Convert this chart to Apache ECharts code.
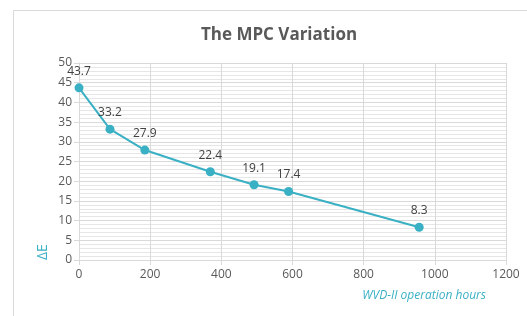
<!DOCTYPE html>
<html>
<head>
<meta charset="utf-8">
<script src="https://cdn.jsdelivr.net/npm/echarts@6/dist/echarts.min.js"></script>
<style>
  html, body { margin: 0; padding: 0; background: #fff; }
  #main { width: 527px; height: 316px; }
</style>
</head>
<body>
<div id="main"></div>
<script>
// hours vs delta E
const hours = [0, 87, 185, 369, 492, 589, 956];
const deltaE = [43.7, 33.2, 27.9, 22.4, 19.1, 17.4, 8.3];

const pts = hours.map(function (h, i) { return [h, deltaE[i]]; });

var myChart = echarts.init(document.getElementById("main"));

var option = {
  animation: false,
  textStyle: { fontFamily: "Open Sans" },
  title: {
    text: "The MPC Variation",
    left: 274,
    textAlign: "center",
    top: 22,
    textStyle: { fontSize: 17, fontWeight: "bold", color: "#595959", fontFamily: "Open Sans" },
  },
  graphic: [
    {
      type: "rect",
      shape: { x: 13.5, y: 10.5, width: 600, height: 400 },
      style: { fill: "none", stroke: "#d9d9d9", lineWidth: 1 },
      silent: true,
    },
  ],
  grid: { left: 79, right: 21, top: 63, bottom: 56 },
  xAxis: {
    type: "value",
    min: 0,
    max: 1200,
    interval: 200,
    name: "WVD-II operation hours",
    nameLocation: "end",
    nameGap: 0,
    nameTextStyle: {
      color: "#3ab0c4",
      fontStyle: "italic",
      fontSize: 12,
      align: "right",
      verticalAlign: "top",
      padding: [30, 20, 0, 0],
    },
    axisLine: { show: true, lineStyle: { color: "#d9d9d9" } },
    axisTick: { show: true, length: 5, lineStyle: { color: "#d9d9d9" } },
    axisLabel: {
      color: "#595959",
      fontSize: 12,
      margin: 9,
      formatter: function (v) { return String(v); },
    },
    splitLine: { show: true, lineStyle: { color: "#d9d9d9" } },
  },
  yAxis: {
    type: "value",
    min: 0,
    max: 50,
    interval: 5,
    name: "ΔE",
    nameLocation: "start",
    nameRotate: 90,
    nameGap: 0,
    nameTextStyle: {
      color: "#3ab0c4",
      fontSize: 14,
      align: "left",
      verticalAlign: "bottom",
      padding: [0, 0, 29, 0],
    },
    axisLine: { show: true, lineStyle: { color: "#d9d9d9" } },
    axisTick: { show: true, length: 5, lineStyle: { color: "#d9d9d9" } },
    axisLabel: { color: "#595959", fontSize: 12, margin: 7 },
    splitLine: { show: true, lineStyle: { color: "#d9d9d9" } },
    minorTick: { show: false, splitNumber: 5 },
    minorSplitLine: { show: true, lineStyle: { color: "#e6e6e6" } },
  },
  series: [
    {
      type: "line",
      data: pts,
      symbol: "circle",
      symbolSize: 9,
      itemStyle: { color: "#3ab0c4" },
      lineStyle: { color: "#3ab0c4", width: 2 },
      label: {
        show: true,
        position: "top",
        distance: 6,
        color: "#404040",
        fontSize: 12,
      },
    },
  ],
};

myChart.setOption(option);
</script>
</body>
</html>
